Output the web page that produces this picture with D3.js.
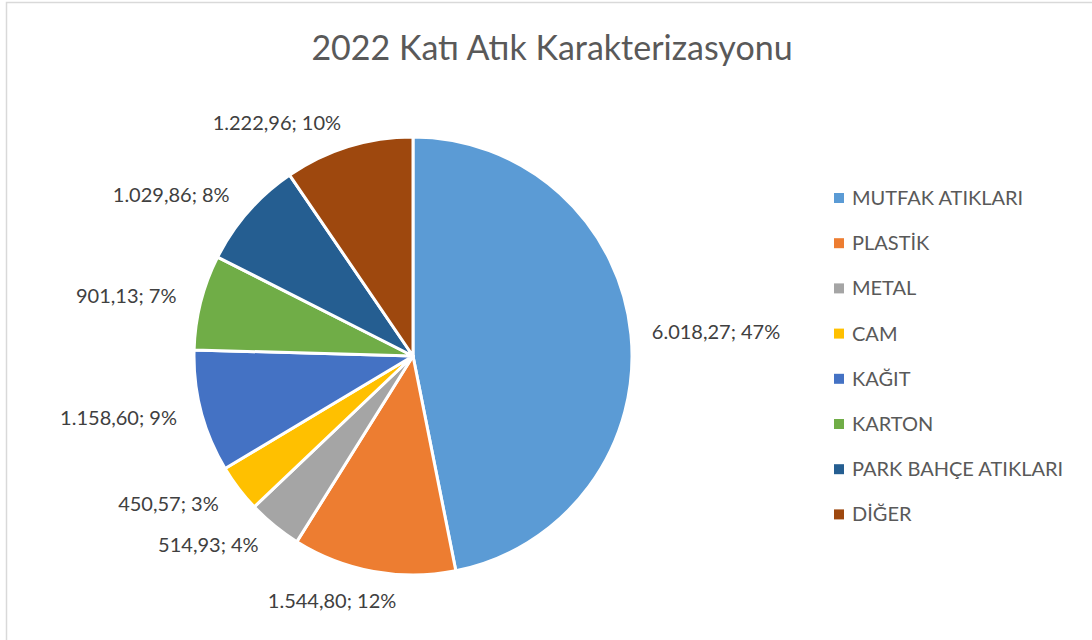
<!DOCTYPE html>
<html>
<head>
<meta charset="utf-8">
<script src="https://cdn.jsdelivr.net/npm/d3@7"></script>
<style>
  body { margin: 0; background: #fff; }
  svg { display: block; font-family: "Lato", "Open Sans", sans-serif; }
</style>
</head>
<body>
<div id="chart"></div>
<script>
// DATA ////////////////////////////////////////////////////////////////////////
const categories = ["MUTFAK ATIKLARI", "PLASTİK", "METAL", "CAM", "KAĞIT", "KARTON", "PARK BAHÇE ATIKLARI", "DİĞER"];
const values = [6018.27, 1544.80, 514.93, 450.57, 1158.60, 901.13, 1029.86, 1222.96];
const colors = ["#5B9BD5", "#ED7D31", "#A5A5A5", "#FFC000", "#4472C4", "#70AD47", "#255E91", "#9E480E"];
const title = "2022 Katı Atık Karakterizasyonu";

// CHART ///////////////////////////////////////////////////////////////////////
const w = 1092, h = 640;
const cx = 413, cy = 356, radius = 219;

const data = categories.map((c, i) => ({ key: c, value: values[i] }));
const total = d3.sum(values);

// percentages rounded so they add up to 100 (largest remainder, like excel)
const raw = values.map(v => v / total * 100);
const pct = raw.map(Math.floor);
let left = 100 - d3.sum(pct);
raw.map((r, i) => [r - Math.floor(r), i])
  .sort((a, b) => b[0] - a[0])
  .forEach(([f, i]) => { if (left > 0) { pct[i] += 1; left -= 1; } });

// turkish number format: 1.234,56
const fmt = d3.formatLocale({ decimal: ",", thousands: ".", grouping: [3], currency: ["", ""] }).format(",.2f");

const svg = d3.select("#chart")
  .append("svg")
  .attr("width", w)
  .attr("height", h);

// chart frame
svg.append("rect")
  .attr("x", 6.5).attr("y", 2.5)
  .attr("width", w + 20).attr("height", h + 20)
  .attr("fill", "none")
  .attr("stroke", "#d9d9d9")
  .attr("stroke-width", 1.5);

svg.append("text")
  .attr("x", 552)
  .attr("y", 60)
  .attr("text-anchor", "middle")
  .attr("font-size", "34px")
  .attr("fill", "#595959")
  .text(title);

const pie = d3.pie().value(d => d.value).sort(null);
const arc = d3.arc().outerRadius(radius).innerRadius(0);
const color = d3.scaleOrdinal().domain(categories).range(colors);

const g = svg.append("g").attr("transform", "translate(" + cx + "," + cy + ")");

g.selectAll("path")
  .data(pie(data))
  .enter()
  .append("path")
  .attr("d", arc)
  .attr("fill", d => color(d.data.key))
  .attr("stroke", "#fff")
  .attr("stroke-width", 3)
  .attr("stroke-linejoin", "round");

// labels outside the pie, "best fit" style
const labelArc = d3.arc().outerRadius(radius + 25).innerRadius(radius + 25);
g.selectAll("text.lbl")
  .data(pie(data))
  .enter()
  .append("text")
  .attr("class", "lbl")
  .each(function(d) {
    const a = (d.startAngle + d.endAngle) / 2;
    const s = Math.sin(a), c = Math.cos(a);
    const p = labelArc.centroid(d);
    let anchor = s > 0 ? "start" : "end";
    let dy = 7;
    if (Math.abs(s) < 0.3 && c < 0) { anchor = "middle"; dy = 12; p[0] -= 37; }
    if (s > 0) p[0] -= 4;
    d3.select(this)
      .attr("x", p[0])
      .attr("y", p[1] + dy)
      .attr("text-anchor", anchor);
  })
  .attr("font-size", "20px")
  .attr("fill", "#404040")
  .text((d, i) => fmt(d.data.value) + "; " + pct[i] + "%");

// legend
const legendRowH = 45.2;
const legend = svg.selectAll(".legend")
  .data(categories)
  .enter()
  .append("g")
  .attr("class", "legend")
  .attr("transform", (d, i) => "translate(834," + (198 + i * legendRowH) + ")");

legend.append("rect")
  .attr("x", 0).attr("y", -5)
  .attr("width", 10).attr("height", 10)
  .attr("fill", d => color(d));

legend.append("text")
  .attr("x", 18)
  .attr("y", 7)
  .attr("font-size", "20px")
  .attr("fill", "#595959")
  .text(d => d);
</script>
</body>
</html>
